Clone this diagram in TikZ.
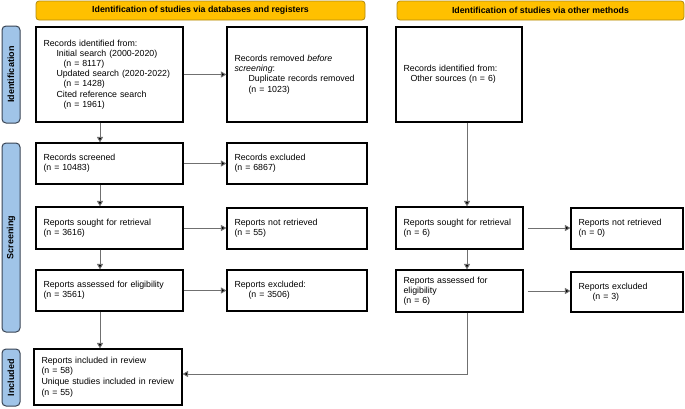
\documentclass[tikz,border=0pt]{standalone}
\usepackage{fontspec}
\setmainfont{Liberation Sans}
\usetikzlibrary{arrows.meta}
\definecolor{hdrfill}{HTML}{FFC000}
\definecolor{hdrdraw}{HTML}{B08A10}
\definecolor{sidefill}{HTML}{A0C4E8}
\definecolor{sidedraw}{HTML}{3A4555}
\definecolor{linegray}{HTML}{707070}
\begin{document}
\begin{tikzpicture}[x=1pt,y=-1pt,
  box/.style={draw, line width=1.1pt, inner xsep=7.5pt, inner ysep=0pt, align=left, anchor=center,
    font=\fontsize{8.8}{10.2}\selectfont},
  hdr/.style={draw=hdrdraw, fill=hdrfill, line width=0.8pt, rounded corners=3pt, inner sep=0pt,
    font=\fontsize{8.8}{10}\selectfont\bfseries},
  side/.style={draw=sidedraw, fill=sidefill, line width=1pt, rounded corners=4pt, inner sep=0pt,
    rotate=90, font=\fontsize{9}{10}\selectfont\bfseries},
  arr/.style={draw=linegray, line width=1pt, -{Triangle[length=5.5pt,width=6pt,fill=black]}}
]
\useasboundingbox (0,0) rectangle (685,408);

% headers
\node[hdr, minimum width=329pt, minimum height=19pt] (h1) at (200.5,10.5) {Identification of studies via databases and registers};
\node[hdr, minimum width=287pt, minimum height=19pt] (h2) at (540.5,10.5) {Identification of studies via other methods};

% side labels
\node[side, minimum width=97pt, minimum height=18pt] (s1) at (11,74.5) {Identification};
\node[side, minimum width=189pt, minimum height=18pt] (s2) at (11,237.5) {Screening};
\node[side, minimum width=57pt, minimum height=18pt] (s3) at (11,377.5) {Included};

% left column
\node[box, text width=132pt, minimum height=95pt] (b1) at (109.5,74.5) {Records identified from:\\
\hspace*{13pt}Initial search (2000-2020)\\
\hspace*{20pt}(n = 8117)\\
\hspace*{13pt}Updated search (2020-2022)\\
\hspace*{20pt}(n = 1428)\\
\hspace*{13pt}Cited reference search\\
\hspace*{20pt}(n = 1961)};
\node[box, text width=125pt, minimum height=95pt] (rem) at (297,74.5) {Records removed \textit{before}\\
\textit{screening}:\\
\hspace*{14pt}\mbox{Duplicate records removed}\\
\hspace*{14pt}(n = 1023)};
\node[box, text width=132pt, minimum height=41pt] (scr) at (109.5,163.5) {Records screened\\(n = 10483)};
\node[box, text width=125pt, minimum height=41pt] (exc) at (297,163.5) {Records excluded\\(n = 6867)};
\node[box, text width=132pt, minimum height=42pt] (srt) at (109.5,228) {Reports sought for retrieval\\(n = 3616)};
\node[box, text width=125pt, minimum height=41pt] (nr) at (297,228.5) {Reports not retrieved\\(n = 55)};
\node[box, text width=132pt, minimum height=41pt] (ass) at (109.5,290.5) {\mbox{Reports assessed for eligibility}\\(n = 3561)};
\node[box, text width=125pt, minimum height=41pt] (aexc) at (297,290.5) {Reports excluded:\\\hspace*{14pt}(n = 3506)};
\node[box, text width=133pt, minimum height=56pt, font=\fontsize{8.8}{10.6}\selectfont] (inc) at (108,377) {Reports included in review\\(n = 58)\\\mbox{Unique studies included in review}\\(n = 55)};

% right column
\node[box, text width=111pt, minimum height=95pt] (oth) at (459,74.5) {Records identified from:\\\hspace*{7pt}Other sources (n = 6)};
\node[box, text width=112pt, minimum height=42pt] (rsrt) at (459.5,228) {\mbox{Reports sought for retrieval}\\(n = 6)};
\node[box, text width=97pt, minimum height=41pt] (rnr) at (627,228.5) {Reports not retrieved\\(n = 0)};
\node[box, text width=112pt, minimum height=42pt] (rass) at (459.5,291) {Reports assessed for\\eligibility\\(n = 6)};
\node[box, text width=97pt, minimum height=40pt] (rexc) at (627,292) {Reports excluded\\\hspace*{14pt}(n = 3)};

% helper coordinates
\coordinate (xl) at (100,0);
\coordinate (xr) at (467,0);
\coordinate (yi) at (0,374);

% horizontal arrows
\draw[arr] (b1.east) -- (rem.west |- b1.east);
\draw[arr] (scr.east) -- (exc.west |- scr.east);
\draw[arr] (srt.east) -- (nr.west |- srt.east);
\draw[arr] (ass.east) -- (aexc.west |- ass.east);
\draw[arr] ([xshift=4pt]rsrt.east) -- (rnr.west |- rsrt.east);
\draw[arr] ([xshift=4pt]rass.east) -- (rexc.west |- rass.east);

% vertical arrows
\draw[arr] (b1.south -| xl) -- (scr.north -| xl);
\draw[arr] (scr.south -| xl) -- (srt.north -| xl);
\draw[arr] (srt.south -| xl) -- (ass.north -| xl);
\draw[arr] (ass.south -| xl) -- (inc.north -| xl);
\draw[arr] (oth.south -| xr) -- (rsrt.north -| xr);
\draw[arr] (rsrt.south -| xr) -- (rass.north -| xr);
\draw[arr] (rass.south -| xr) -- (xr |- yi) -- (inc.east |- yi);
\end{tikzpicture}
\end{document}
